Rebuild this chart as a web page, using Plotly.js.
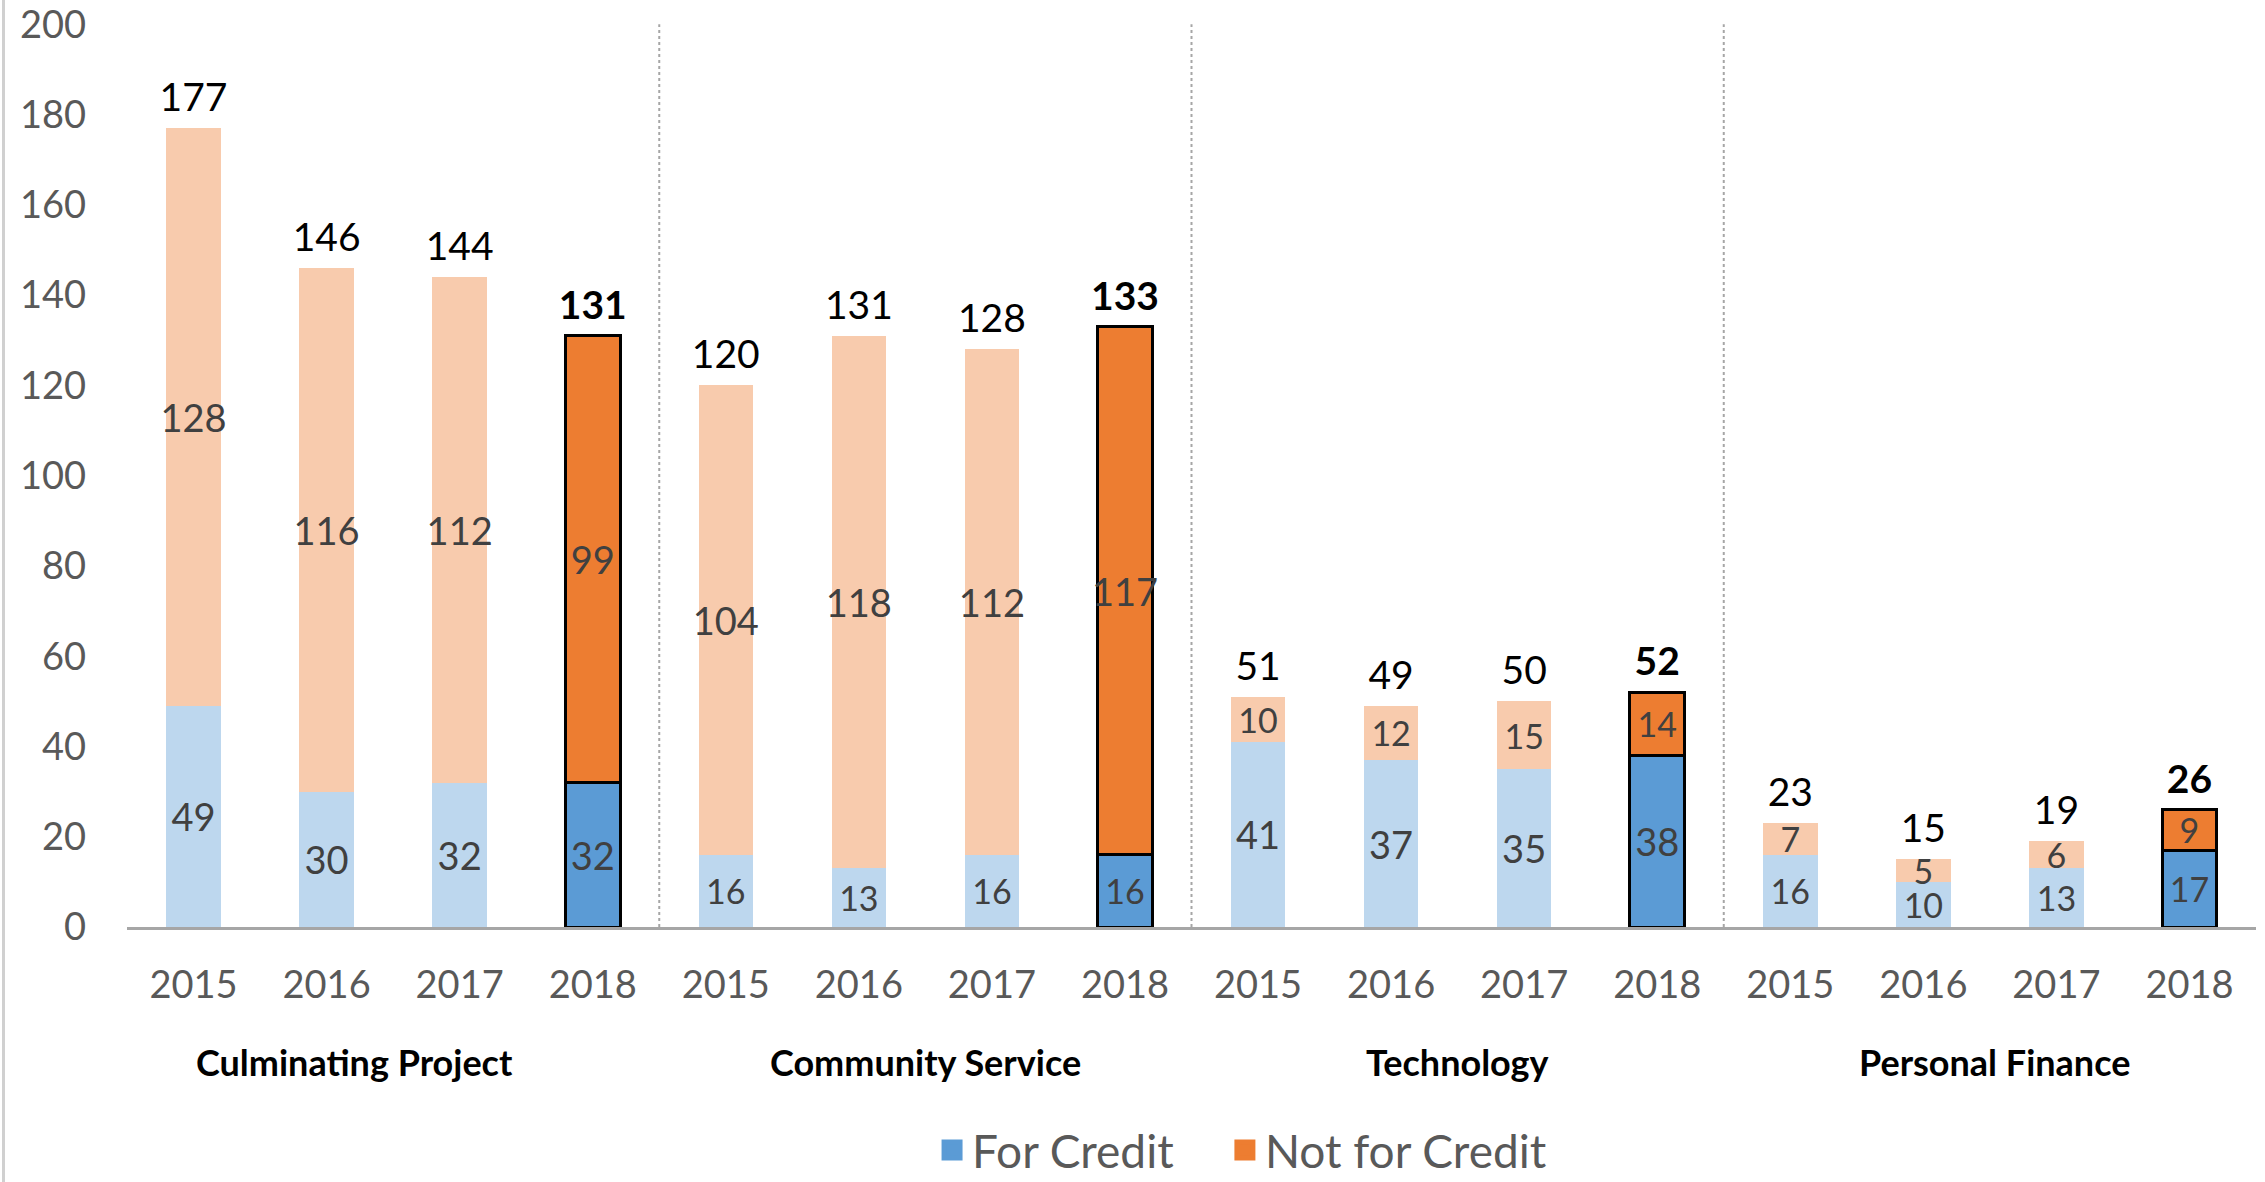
<!DOCTYPE html>
<html><head><meta charset="utf-8">
<script src="https://cdn.plot.ly/plotly-3.0.1.min.js"></script>
<style>html,body{margin:0;padding:0;background:#fff}#chart{width:2265px;height:1182px}</style>
</head><body><div id="chart"></div>
<script>
// ---- data ----
const groups = ["Culminating Project", "Community Service", "Technology", "Personal Finance"];
const years = ["2015", "2016", "2017", "2018"];
const highlightYear = "2018";
const cpCredit   = [49, 30, 32, 32];
const cpNot      = [128, 116, 112, 99];
const csCredit   = [16, 13, 16, 16];
const csNot      = [104, 118, 112, 117];
const techCredit = [41, 37, 35, 38];
const techNot    = [10, 12, 15, 14];
const pfCredit   = [16, 10, 13, 17];
const pfNot      = [7, 5, 6, 9];
const yTicks = [0, 20, 40, 60, 80, 100, 120, 140, 160, 180, 200];

// ---- derived ----
const creditAll = [].concat(cpCredit, csCredit, techCredit, pfCredit);
const notAll = [].concat(cpNot, csNot, techNot, pfNot);
const xIdx = creditAll.map((_, i) => i);
const yearAll = groups.flatMap(() => years);
const isHL = yearAll.map(y => y === highlightYear);
const totals = creditAll.map((v, i) => v + notAll[i]);

const FONT = "Lato, 'Open Sans', sans-serif";
const C_BLUE = "#5B9BD5", C_BLUE_L = "#BDD7EE", C_ORANGE = "#ED7D31", C_ORANGE_L = "#F8CBAD";

function barTrace(vals, strong, light, name) {
  return {
    type: "bar", x: xIdx, y: vals, name: name, width: 0.41, showlegend: false,
    marker: {
      color: isHL.map(h => h ? strong : light),
      line: { color: "#000000", width: isHL.map(h => h ? 3 : 0) }
    },
    text: vals.map(String), textposition: "inside", insidetextanchor: "middle",
    textangle: 0, constraintext: "none",
    textfont: { family: FONT, size: vals.map(v => v < 20 ? 34 : 38), color: "#404040" },
    hovertemplate: name + ": %{y}<extra></extra>"
  };
}

function legendTrace(name, color, legendId) {
  return { type: "scatter", mode: "markers", x: [null], y: [null], name: name, legend: legendId,
    marker: { symbol: "square", size: 16, color: color, line: { color: color, width: 5 } } };
}

const traces = [
  barTrace(creditAll, C_BLUE, C_BLUE_L, "For Credit"),
  barTrace(notAll, C_ORANGE, C_ORANGE_L, "Not for Credit"),
  {
    type: "scatter", mode: "markers+text", x: xIdx, y: totals, showlegend: false,
    marker: { size: 10, color: "rgba(0,0,0,0)" },
    text: totals.map((t, i) => isHL[i] ? "<b>" + t + "</b>" : String(t)),
    textposition: "top center",
    textfont: { family: FONT, size: 39, color: "#000000" },
    hoverinfo: "skip"
  },
  legendTrace("For Credit", C_BLUE, "legend"),
  legendTrace("Not for Credit", C_ORANGE, "legend2")
];

const shapes = groups.slice(0, -1).map((g, gi) => ({
  type: "line", xref: "x", yref: "y",
  x0: (gi + 1) * years.length - 0.5, x1: (gi + 1) * years.length - 0.5,
  y0: 0, y1: yTicks[yTicks.length - 1],
  line: { color: "#A6A6A6", width: 2, dash: "dot" }
}));
shapes.push({ type: "line", xref: "paper", yref: "paper", x0: -0.058, x1: -0.058, y0: -0.3, y1: 1.03,
  line: { color: "#D0D0D0", width: 3 } });

const annotations = groups.map((g, gi) => ({
  xref: "x", yref: "paper", x: gi * years.length + (years.length - 1) / 2, y: -0.149,
  xshift: gi === 0 ? -39 : (gi === 3 ? 5 : 0),
  text: "<b>" + g + "</b>", showarrow: false, xanchor: "center", yanchor: "middle",
  font: { family: FONT, size: 36, color: "#000000" }
}));

const legendBase = {
  orientation: "h", xref: "container", yref: "container", xanchor: "left",
  y: 0.027, yanchor: "middle", bgcolor: "rgba(0,0,0,0)",
  font: { family: FONT, size: 46, color: "#595959" }, itemwidth: 30
};

const layout = {
  width: 2265, height: 1182,
  margin: { l: 127, r: 9, t: 23, b: 255 },
  paper_bgcolor: "#ffffff", plot_bgcolor: "#ffffff",
  barmode: "stack",
  font: { family: FONT, color: "#595959" },
  xaxis: {
    range: [-0.5, xIdx.length - 0.5], tickmode: "array", tickvals: xIdx, ticktext: yearAll,
    tickfont: { family: FONT, size: 38, color: "#595959" },
    showline: true, linecolor: "#A6A6A6", linewidth: 3, showgrid: false, zeroline: false,
    ticks: "", ticklabelstandoff: 22, fixedrange: true
  },
  yaxis: {
    range: [0, 200.3], tickmode: "array", tickvals: yTicks,
    tickfont: { family: FONT, size: 38, color: "#595959" },
    showgrid: false, zeroline: false, showline: false, ticks: "",
    ticklabelstandoff: 40, ticklabeloverflow: "allow", fixedrange: true
  },
  legend: Object.assign({}, legendBase, { x: 0.4115 }),
  legend2: Object.assign({}, legendBase, { x: 0.5408 }),
  shapes: shapes,
  annotations: annotations,
  showlegend: true
};

Plotly.newPlot("chart", traces, layout, { displayModeBar: false, staticPlot: true });
</script>
</body></html>
